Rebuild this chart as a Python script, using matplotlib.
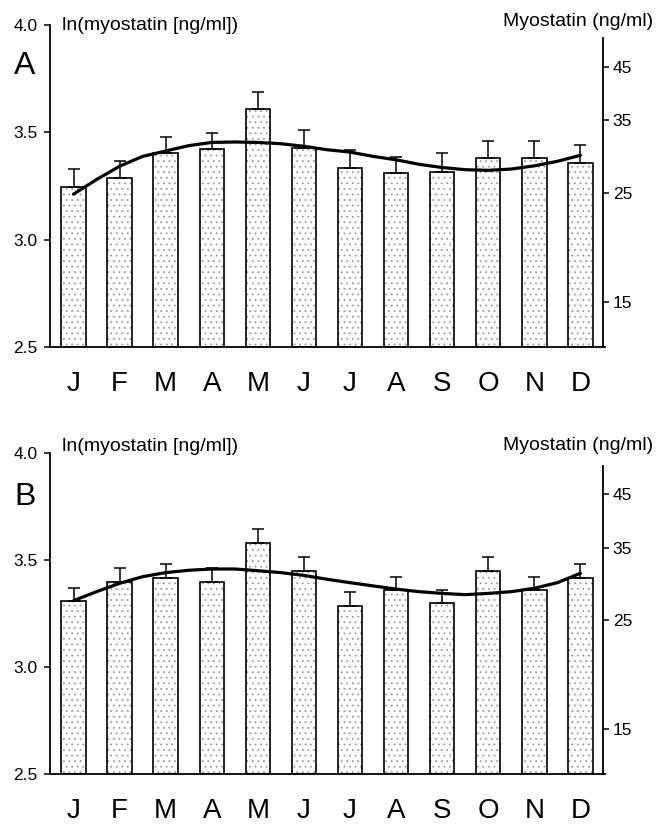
import matplotlib
matplotlib.use('Agg')
import matplotlib.pyplot as plt
import numpy as np

plt.rcParams['font.family'] = ['Liberation Sans', 'DejaVu Sans']
plt.rcParams['hatch.linewidth'] = 0.6

months = ['J', 'F', 'M', 'A', 'M', 'J', 'J', 'A', 'S', 'O', 'N', 'D']

# panel A: ln(myostatin) monthly means and upper SEM end
mean_a = [3.246, 3.289, 3.402, 3.421, 3.609, 3.427, 3.336, 3.309, 3.315, 3.381, 3.381, 3.356]
top_a = [3.329, 3.367, 3.478, 3.499, 3.686, 3.512, 3.419, 3.387, 3.402, 3.458, 3.458, 3.440]
# fitted curve, read every half month
curve_a = [3.212, 3.280, 3.342, 3.388, 3.413, 3.438, 3.453, 3.455, 3.453, 3.447, 3.435, 3.419,
           3.408, 3.388, 3.372, 3.351, 3.336, 3.326, 3.323, 3.329, 3.344, 3.365, 3.393]

# panel B
mean_b = [3.307, 3.399, 3.416, 3.397, 3.581, 3.449, 3.285, 3.358, 3.297, 3.449, 3.358, 3.416]
top_b = [3.369, 3.461, 3.483, 3.461, 3.645, 3.514, 3.350, 3.422, 3.361, 3.514, 3.422, 3.483]
curve_b = [3.310, 3.352, 3.391, 3.422, 3.441, 3.452, 3.458, 3.458, 3.450, 3.441, 3.428, 3.410,
           3.394, 3.379, 3.364, 3.352, 3.344, 3.338, 3.344, 3.352, 3.368, 3.394, 3.438]

right_ticks = [15, 25, 35, 45]

W, H = 656, 827
fig = plt.figure(figsize=(W / 100, H / 100), dpi=100)


def panel(rect, mean, top, curve, letter, ln_y, my_y, let_y):
    ax = fig.add_axes(rect)
    x = np.arange(len(months))
    mean = np.array(mean)
    err = np.array(top) - mean
    ax.bar(x, mean - 2.5, bottom=2.5, width=0.53, color='white',
           edgecolor='#999999', hatch='...', linewidth=0, zorder=2)
    ax.bar(x, mean - 2.5, bottom=2.5, width=0.53, color='none',
           edgecolor='black', linewidth=1.2, zorder=3)
    ax.errorbar(x, mean, yerr=[np.zeros_like(err), err], fmt='none',
                ecolor='black', elinewidth=1.1, capsize=4.3, capthick=1.1, zorder=3)
    xc = np.arange(len(curve)) * 0.5
    ax.plot(xc, curve, color='black', lw=2.3, zorder=4, solid_capstyle='round')

    ax.set_xlim(-0.51, 11.49)
    ax.set_ylim(2.5, 4.0)
    ax.set_yticks([2.5, 3.0, 3.5, 4.0])
    ax.set_yticklabels(['2.5', '3.0', '3.5', '4.0'], fontsize=12.5)
    ax.set_xticks(x)
    ax.set_xticklabels(months, fontsize=20)
    ax.tick_params(axis='x', length=0, pad=17)
    ax.tick_params(axis='y', length=4.5, width=1.1, pad=4.5)
    for s in ['top', 'right']:
        ax.spines[s].set_visible(False)
    ax.spines['left'].set_linewidth(1.3)
    ax.spines['bottom'].set_linewidth(1.3)
    ax.spines['bottom'].set_bounds(-0.51, 11.53)

    ax2 = ax.twinx()
    ax2.set_ylim(2.5, 4.0)
    ax2.set_yticks(np.log(right_ticks))
    ax2.set_yticklabels([str(t) for t in right_ticks], fontsize=12.5)
    ax2.tick_params(axis='y', length=4, width=1.1, pad=3)
    for s in ['top', 'left', 'bottom']:
        ax2.spines[s].set_visible(False)
    ax2.spines['right'].set_linewidth(1.3)
    ax2.spines['right'].set_bounds(2.5, 3.94)

    fig.text(62 / W, 1 - ln_y / H, 'ln(myostatin [ng/ml])', fontsize=14,
             ha='left', va='center')
    fig.text(653 / W, 1 - my_y / H, 'Myostatin (ng/ml)', fontsize=14,
             ha='right', va='center')
    fig.text(14 / W, 1 - let_y / H, letter, fontsize=23, ha='left', va='center')


panel([50 / W, 1 - 347 / H, 553 / W, 322 / H], mean_a, top_a, curve_a, 'A', 25, 21, 66)
panel([50 / W, 1 - 774 / H, 553 / W, 321 / H], mean_b, top_b, curve_b, 'B', 447, 446, 497)

fig.savefig('out.png', dpi=100)
